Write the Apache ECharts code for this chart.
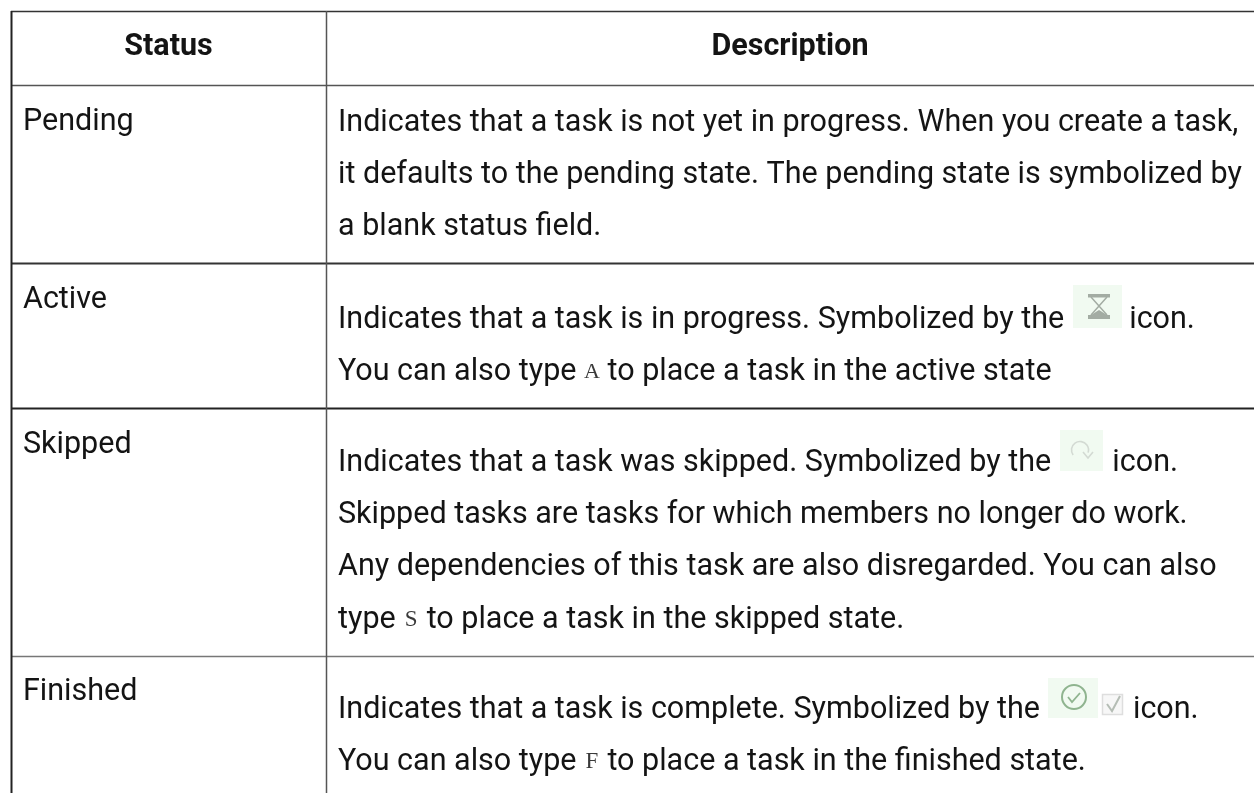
<!DOCTYPE html>
<html>
<head>
<meta charset="utf-8">
<style>html,body{margin:0;padding:0;background:#fff}#c{width:1254px;height:793px}</style>
<script src="https://cdn.jsdelivr.net/npm/echarts@6/dist/echarts.min.js"></script>
</head>
<body>
<div id="c"></div>
<script>
// Table content
const headers = ['Status', 'Description'];
const statuses = ['Pending', 'Active', 'Skipped', 'Finished'];
const pendingLines = [
  'Indicates that a task is not yet in progress. When you create a task,',
  'it defaults to the pending state. The pending state is symbolized by',
  'a blank status field.'
];
const activeLines = [
  'Indicates that a task is in progress. Symbolized by the {hour| } icon.',
  'You can also type {a|A} to place a task in the active state'
];
const skippedLines = [
  'Indicates that a task was skipped. Symbolized by the {skip| } icon.',
  'Skipped tasks are tasks for which members no longer do work.',
  'Any dependencies of this task are also disregarded. You can also',
  'type {m|S} to place a task in the skipped state.'
];
const finishedLines = [
  'Indicates that a task is complete. Symbolized by the {fin| } icon.',
  'You can also type {m|F} to place a task in the finished state.'
];

// Layout
const W = 1254, H = 793;
const FONT = 'Roboto';
const SIZE = 30.5;
const colLeft = 11, colMid = 326;
const statusX = 23, descX = 338;
const hLines = [
  {y: 11.5, c: '#333', w: 1.5},
  {y: 85.5, c: '#555', w: 1.5},
  {y: 263.5, c: '#333', w: 2},
  {y: 408.5, c: '#222', w: 2},
  {y: 656.5, c: '#777', w: 1.5}
];
const statusBase = [130, 308.5, 453.5, 700];
const descBlocks = [
  {lines: pendingLines, base: [131, 183, 235]},
  {lines: activeLines, base: [328, 380]},
  {lines: skippedLines, base: [471, 523, 575, 628]},
  {lines: finishedLines, base: [718, 770]}
];
const INK = '#141414';
const richStyles = {
  m: {fontFamily: 'Liberation Serif', fontSize: 23, fill: '#3a3a3a', lineHeight: 40, padding: [0, 1.5]},
  a: {fontFamily: 'Liberation Serif', fontSize: 22, fill: '#3a3a3a', lineHeight: 40},
  hour: {width: 50, lineHeight: 40},
  skip: {width: 46, lineHeight: 40},
  fin: {width: 78, lineHeight: 40}
};

const els = [];
function line(x1, y1, x2, y2, c, w) {
  els.push({type: 'line', shape: {x1, y1, x2, y2}, style: {stroke: c, lineWidth: w}, silent: true});
}
function text(str, x, base, opt) {
  opt = opt || {};
  els.push({
    type: 'text', x: x, y: base - 8, silent: true,
    style: {
      text: str, fontFamily: FONT, fontSize: SIZE, fontWeight: opt.weight || 400,
      fill: INK, align: opt.align || 'left', textAlign: opt.align || 'left',
      verticalAlign: 'middle', rich: richStyles, lineHeight: 40
    }
  });
}
hLines.forEach(l => line(colLeft, l.y, W, l.y, l.c, l.w));
line(colLeft + 0.5, 11, colLeft + 0.5, H, '#222', 2);
line(colMid + 0.5, 11, colMid + 0.5, H, '#555', 1.5);

text(headers[0], 168.5, 55, {weight: 700, align: 'center'});
text(headers[1], 790, 55, {weight: 700, align: 'center'});
statuses.forEach((s, i) => text(s, statusX, statusBase[i]));
descBlocks.forEach(b => b.lines.forEach((t, i) => text(t, descX, b.base[i])));

// Icons
const pale = '#f1faf1';
function box(x, y, w, h, c) {
  els.push({type: 'rect', shape: {x, y, width: w, height: h}, style: {fill: c || pale}, silent: true, z: -1});
}
// hourglass
box(1073, 285, 49, 43);
const hg = '#a3aca3';
els.push({type: 'rect', shape: {x: 1088, y: 294, width: 22, height: 3.5}, style: {fill: hg}, silent: true});
els.push({type: 'rect', shape: {x: 1088, y: 315, width: 22, height: 4}, style: {fill: hg}, silent: true});
els.push({type: 'polyline', shape: {points: [[1091, 297], [1099, 306], [1091, 315]]}, style: {stroke: hg, lineWidth: 1.5, fill: null}, silent: true});
els.push({type: 'polyline', shape: {points: [[1107, 297], [1099, 306], [1107, 315]]}, style: {stroke: hg, lineWidth: 1.5, fill: null}, silent: true});
els.push({type: 'polygon', shape: {points: [[1091, 315], [1099, 310], [1107, 315]]}, style: {fill: hg}, silent: true});
// skip
box(1060, 430, 43, 41);
const sk = '#d3dad3';
els.push({type: 'arc', shape: {cx: 1080, cy: 450, r: 8.5, startAngle: Math.PI * 0.8, endAngle: Math.PI * 2.1, clockwise: true}, style: {stroke: sk, lineWidth: 1.6, fill: null}, silent: true});
els.push({type: 'polyline', shape: {points: [[1083, 452], [1088, 458], [1093, 452]]}, style: {stroke: sk, lineWidth: 1.6, fill: null}, silent: true});
// finished
box(1048, 678, 50, 40);
const fc = '#8fb48f';
els.push({type: 'circle', shape: {cx: 1074, cy: 697, r: 12}, style: {stroke: fc, lineWidth: 2, fill: null}, silent: true});
els.push({type: 'polyline', shape: {points: [[1068, 697], [1072, 702], [1080, 693]]}, style: {stroke: fc, lineWidth: 1.8, fill: null}, silent: true});
els.push({type: 'rect', shape: {x: 1102.5, y: 694.5, width: 20, height: 20}, style: {fill: '#f7f7f7', stroke: '#dedede', lineWidth: 1.5}, silent: true});
els.push({type: 'polyline', shape: {points: [[1107, 704], [1112, 711], [1120, 696]]}, style: {stroke: '#b5bdb5', lineWidth: 2, fill: null}, silent: true});

const chart = echarts.init(document.getElementById('c'), null, {renderer: 'canvas'});
chart.setOption({animation: false, backgroundColor: '#fff', graphic: {elements: els}});
</script>
</body>
</html>
